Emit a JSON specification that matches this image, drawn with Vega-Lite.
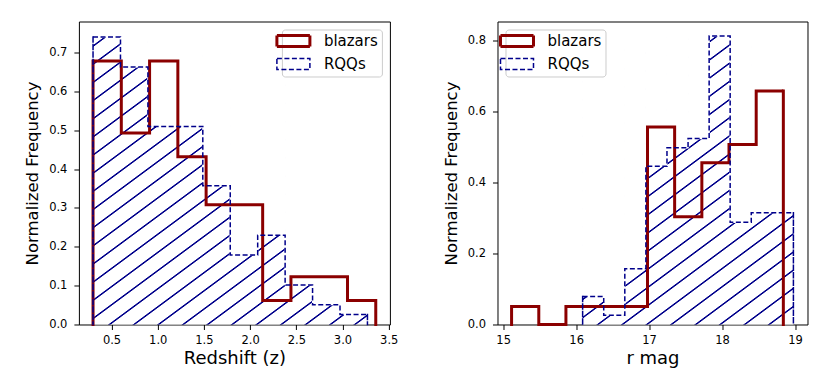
{
  "$schema": "https://vega.github.io/schema/vega-lite/v6.json",
  "background": "white",
  "padding": {"left": 23.9, "top": 20.5, "right": 5, "bottom": 5},
  "bounds": "flush",
  "spacing": 107.6,
  "config": {
    "font": "DejaVu Sans",
    "view": {"stroke": "black", "strokeWidth": 1},
    "axis": {"domain": false, "grid": false, "tickColor": "black", "tickSize": 5, "tickWidth": 1, "labelColor": "black", "labelFontSize": 11.5, "labelFont": "DejaVu Sans", "labelOverlap": false, "titleFont": "DejaVu Sans", "titleFontSize": 17, "titleFontWeight": "normal", "titleColor": "black"},
    "axisX": {"labelPadding": 5, "titlePadding": 3.5, "titleFontSize": 18},
    "axisY": {"labelPadding": 7, "titlePadding": 8, "titleFontSize": 16.5},
    "legend": {"offset": 8, "padding": 4, "strokeColor": "#cccccc", "fillColor": "rgba(255,255,255,0.8)", "cornerRadius": 3, "labelFontSize": 15, "labelFont": "DejaVu Sans", "labelColor": "black", "symbolType": "M-3,-1H3V1H-3Z", "symbolSize": 121, "labelOffset": 23, "rowPadding": 3}
  },
  "datasets": {
    "z": [
      {"series": "blazars", "bin": 0, "start": 0.300, "end": 0.606, "value": 0.678},
      {"series": "blazars", "bin": 1, "start": 0.606, "end": 0.912, "value": 0.493},
      {"series": "blazars", "bin": 2, "start": 0.912, "end": 1.218, "value": 0.678},
      {"series": "blazars", "bin": 3, "start": 1.218, "end": 1.524, "value": 0.432},
      {"series": "blazars", "bin": 4, "start": 1.524, "end": 1.830, "value": 0.308},
      {"series": "blazars", "bin": 5, "start": 1.830, "end": 2.136, "value": 0.308},
      {"series": "blazars", "bin": 6, "start": 2.136, "end": 2.442, "value": 0.062},
      {"series": "blazars", "bin": 7, "start": 2.442, "end": 2.748, "value": 0.123},
      {"series": "blazars", "bin": 8, "start": 2.748, "end": 3.054, "value": 0.123},
      {"series": "blazars", "bin": 9, "start": 3.054, "end": 3.360, "value": 0.062},
      {"series": "RQQs", "bin": 0, "start": 0.300, "end": 0.597, "value": 0.740},
      {"series": "RQQs", "bin": 1, "start": 0.597, "end": 0.894, "value": 0.663},
      {"series": "RQQs", "bin": 2, "start": 0.894, "end": 1.191, "value": 0.510},
      {"series": "RQQs", "bin": 3, "start": 1.191, "end": 1.488, "value": 0.510},
      {"series": "RQQs", "bin": 4, "start": 1.488, "end": 1.785, "value": 0.357},
      {"series": "RQQs", "bin": 5, "start": 1.785, "end": 2.082, "value": 0.179},
      {"series": "RQQs", "bin": 6, "start": 2.082, "end": 2.379, "value": 0.230},
      {"series": "RQQs", "bin": 7, "start": 2.379, "end": 2.676, "value": 0.102},
      {"series": "RQQs", "bin": 8, "start": 2.676, "end": 2.973, "value": 0.051},
      {"series": "RQQs", "bin": 9, "start": 2.973, "end": 3.270, "value": 0.026}
    ],
    "r": [
      {"series": "blazars", "bin": 0, "start": 15.115, "end": 15.488, "value": 0.051},
      {"series": "blazars", "bin": 1, "start": 15.488, "end": 15.860, "value": 0.0},
      {"series": "blazars", "bin": 2, "start": 15.860, "end": 16.233, "value": 0.051},
      {"series": "blazars", "bin": 3, "start": 16.233, "end": 16.605, "value": 0.051},
      {"series": "blazars", "bin": 4, "start": 16.605, "end": 16.978, "value": 0.051},
      {"series": "blazars", "bin": 5, "start": 16.978, "end": 17.350, "value": 0.557},
      {"series": "blazars", "bin": 6, "start": 17.350, "end": 17.723, "value": 0.304},
      {"series": "blazars", "bin": 7, "start": 17.723, "end": 18.095, "value": 0.456},
      {"series": "blazars", "bin": 8, "start": 18.095, "end": 18.468, "value": 0.507},
      {"series": "blazars", "bin": 9, "start": 18.468, "end": 18.840, "value": 0.658},
      {"series": "RQQs", "bin": 0, "start": 16.089, "end": 16.378, "value": 0.079},
      {"series": "RQQs", "bin": 1, "start": 16.378, "end": 16.667, "value": 0.026},
      {"series": "RQQs", "bin": 2, "start": 16.667, "end": 16.956, "value": 0.157},
      {"series": "RQQs", "bin": 3, "start": 16.956, "end": 17.245, "value": 0.446},
      {"series": "RQQs", "bin": 4, "start": 17.245, "end": 17.534, "value": 0.498},
      {"series": "RQQs", "bin": 5, "start": 17.534, "end": 17.823, "value": 0.524},
      {"series": "RQQs", "bin": 6, "start": 17.823, "end": 18.111, "value": 0.813},
      {"series": "RQQs", "bin": 7, "start": 18.111, "end": 18.400, "value": 0.288},
      {"series": "RQQs", "bin": 8, "start": 18.400, "end": 18.689, "value": 0.315},
      {"series": "RQQs", "bin": 9, "start": 18.689, "end": 18.978, "value": 0.315}
    ]
  },
  "resolve": {"scale": {"stroke": "independent", "strokeDash": "independent", "strokeWidth": "independent"}, "legend": {"stroke": "independent"}},
  "hconcat": [
    {
      "width": 311,
      "height": 303,
      "data": {"name": "z"},
      "layer": [
        {
          "transform": [
            {"filter": "datum.series === 'RQQs'"},
            {"aggregate": [{"op": "min", "field": "start", "as": "x0"}, {"op": "max", "field": "end", "as": "x1"}, {"op": "max", "field": "value", "as": "top"}]}
          ],
          "mark": {"type": "rect", "fill": {"gradient": "linear", "x1": 0, "y1": 0, "x2": 0.804, "y2": 1.138, "stops": [
            {"offset": 0.0157, "color": "white"}, {"offset": 0.0175, "color": "#00008B"}, {"offset": 0.0195, "color": "#00008B"}, {"offset": 0.0213, "color": "white"},
            {"offset": 0.0527, "color": "white"}, {"offset": 0.0545, "color": "#00008B"}, {"offset": 0.0565, "color": "#00008B"}, {"offset": 0.0583, "color": "white"},
            {"offset": 0.0898, "color": "white"}, {"offset": 0.0916, "color": "#00008B"}, {"offset": 0.0936, "color": "#00008B"}, {"offset": 0.0954, "color": "white"},
            {"offset": 0.1268, "color": "white"}, {"offset": 0.1286, "color": "#00008B"}, {"offset": 0.1306, "color": "#00008B"}, {"offset": 0.1324, "color": "white"},
            {"offset": 0.1638, "color": "white"}, {"offset": 0.1656, "color": "#00008B"}, {"offset": 0.1676, "color": "#00008B"}, {"offset": 0.1694, "color": "white"},
            {"offset": 0.2009, "color": "white"}, {"offset": 0.2027, "color": "#00008B"}, {"offset": 0.2047, "color": "#00008B"}, {"offset": 0.2065, "color": "white"},
            {"offset": 0.2379, "color": "white"}, {"offset": 0.2397, "color": "#00008B"}, {"offset": 0.2417, "color": "#00008B"}, {"offset": 0.2435, "color": "white"},
            {"offset": 0.2749, "color": "white"}, {"offset": 0.2767, "color": "#00008B"}, {"offset": 0.2787, "color": "#00008B"}, {"offset": 0.2805, "color": "white"},
            {"offset": 0.3119, "color": "white"}, {"offset": 0.3137, "color": "#00008B"}, {"offset": 0.3157, "color": "#00008B"}, {"offset": 0.3175, "color": "white"},
            {"offset": 0.3490, "color": "white"}, {"offset": 0.3508, "color": "#00008B"}, {"offset": 0.3528, "color": "#00008B"}, {"offset": 0.3546, "color": "white"},
            {"offset": 0.3860, "color": "white"}, {"offset": 0.3878, "color": "#00008B"}, {"offset": 0.3898, "color": "#00008B"}, {"offset": 0.3916, "color": "white"},
            {"offset": 0.4230, "color": "white"}, {"offset": 0.4248, "color": "#00008B"}, {"offset": 0.4268, "color": "#00008B"}, {"offset": 0.4286, "color": "white"},
            {"offset": 0.4601, "color": "white"}, {"offset": 0.4619, "color": "#00008B"}, {"offset": 0.4639, "color": "#00008B"}, {"offset": 0.4657, "color": "white"},
            {"offset": 0.4971, "color": "white"}, {"offset": 0.4989, "color": "#00008B"}, {"offset": 0.5009, "color": "#00008B"}, {"offset": 0.5027, "color": "white"},
            {"offset": 0.5341, "color": "white"}, {"offset": 0.5359, "color": "#00008B"}, {"offset": 0.5379, "color": "#00008B"}, {"offset": 0.5397, "color": "white"},
            {"offset": 0.5712, "color": "white"}, {"offset": 0.5730, "color": "#00008B"}, {"offset": 0.5750, "color": "#00008B"}, {"offset": 0.5768, "color": "white"},
            {"offset": 0.6082, "color": "white"}, {"offset": 0.6100, "color": "#00008B"}, {"offset": 0.6120, "color": "#00008B"}, {"offset": 0.6138, "color": "white"},
            {"offset": 0.6452, "color": "white"}, {"offset": 0.6470, "color": "#00008B"}, {"offset": 0.6490, "color": "#00008B"}, {"offset": 0.6508, "color": "white"},
            {"offset": 0.6822, "color": "white"}, {"offset": 0.6840, "color": "#00008B"}, {"offset": 0.6860, "color": "#00008B"}, {"offset": 0.6878, "color": "white"},
            {"offset": 0.7193, "color": "white"}, {"offset": 0.7211, "color": "#00008B"}, {"offset": 0.7231, "color": "#00008B"}, {"offset": 0.7249, "color": "white"},
            {"offset": 0.7563, "color": "white"}, {"offset": 0.7581, "color": "#00008B"}, {"offset": 0.7601, "color": "#00008B"}, {"offset": 0.7619, "color": "white"},
            {"offset": 0.7933, "color": "white"}, {"offset": 0.7951, "color": "#00008B"}, {"offset": 0.7971, "color": "#00008B"}, {"offset": 0.7989, "color": "white"},
            {"offset": 0.8304, "color": "white"}, {"offset": 0.8322, "color": "#00008B"}, {"offset": 0.8342, "color": "#00008B"}, {"offset": 0.8360, "color": "white"},
            {"offset": 0.8674, "color": "white"}, {"offset": 0.8692, "color": "#00008B"}, {"offset": 0.8712, "color": "#00008B"}, {"offset": 0.8730, "color": "white"},
            {"offset": 0.9044, "color": "white"}, {"offset": 0.9062, "color": "#00008B"}, {"offset": 0.9082, "color": "#00008B"}, {"offset": 0.9100, "color": "white"},
            {"offset": 0.9415, "color": "white"}, {"offset": 0.9433, "color": "#00008B"}, {"offset": 0.9453, "color": "#00008B"}, {"offset": 0.9471, "color": "white"},
            {"offset": 0.9785, "color": "white"}, {"offset": 0.9803, "color": "#00008B"}, {"offset": 0.9823, "color": "#00008B"}, {"offset": 0.9841, "color": "white"}
          ]}},
          "encoding": {
            "x": {"field": "x0", "type": "quantitative", "scale": {"domain": [0.147, 3.513], "nice": false, "zero": false}, "axis": {"values": [0.5, 1, 1.5, 2, 2.5, 3, 3.5], "format": ".1f", "title": "Redshift (z)"}},
            "x2": {"field": "x1"},
            "y": {"field": "top", "type": "quantitative", "scale": {"domain": [0, 0.78], "nice": false, "zero": false}, "axis": {"values": [0, 0.1, 0.2, 0.3, 0.4, 0.5, 0.6, 0.7], "format": ".1f", "title": "Normalized Frequency"}},
            "y2": {"datum": 0}
          }
        },
        {
          "transform": [
            {"filter": "datum.series === 'RQQs'"},
            {"joinaggregate": [{"op": "max", "field": "value", "as": "top"}]}
          ],
          "mark": {"type": "rect", "fill": "white", "stroke": "white", "strokeWidth": 1.2},
          "encoding": {
            "x": {"field": "start", "type": "quantitative", "title": "Redshift (z)"},
            "x2": {"field": "end"},
            "y": {"field": "value", "type": "quantitative", "title": "Normalized Frequency"},
            "y2": {"field": "top"}
          }
        },
        {
          "transform": [{"fold": ["start", "end"], "as": ["edge", "xe"]}],
          "mark": {"type": "line", "strokeJoin": "miter", "strokeCap": "butt"},
          "encoding": {
            "x": {"field": "xe", "type": "quantitative", "title": "Redshift (z)"},
            "y": {"field": "value", "type": "quantitative", "title": "Normalized Frequency"},
            "stroke": {"field": "series", "type": "nominal", "scale": {"domain": ["blazars", "RQQs"], "range": ["#8B0000", "#00008B"]},
              "legend": {"orient": "top-right", "title": null, "encode": {"symbols": {"update": {
                "strokeWidth": {"condition": {"test": "datum.value === 'RQQs'", "value": 1.5}, "value": 3},
                "strokeDash": {"condition": {"test": "datum.value === 'RQQs'", "value": [4, 2]}, "value": [1, 0]},
                "opacity": {"value": 1},
                "fill": {"condition": {"test": "datum.value === 'RQQs'", "value": {"gradient": "linear", "x1": 0, "y1": 0, "x2": 1.206, "y2": 0.543, "stops": [
                  {"offset": 0.154, "color": "white"}, {"offset": 0.179, "color": "#00008B"}, {"offset": 0.221, "color": "#00008B"}, {"offset": 0.246, "color": "white"},
                  {"offset": 0.454, "color": "white"}, {"offset": 0.479, "color": "#00008B"}, {"offset": 0.521, "color": "#00008B"}, {"offset": 0.546, "color": "white"},
                  {"offset": 0.754, "color": "white"}, {"offset": 0.779, "color": "#00008B"}, {"offset": 0.821, "color": "#00008B"}, {"offset": 0.846, "color": "white"}]}},
                  "value": "transparent"}
              }}}}},
            "strokeDash": {"field": "series", "type": "nominal", "scale": {"domain": ["blazars", "RQQs"], "range": [[1, 0], [5, 2.5]]}, "legend": null},
            "strokeWidth": {"field": "series", "type": "ordinal", "scale": {"domain": ["blazars", "RQQs"], "range": [3, 1.5]}, "legend": null},
            "order": [{"field": "xe", "type": "quantitative"}, {"field": "bin", "type": "quantitative"}]
          }
        },
        {
          "transform": [{"filter": "datum.bin === 0"}],
          "mark": {"type": "rule", "strokeCap": "square"},
          "encoding": {
            "x": {"field": "start", "type": "quantitative", "title": "Redshift (z)"},
            "y": {"field": "value", "type": "quantitative", "title": "Normalized Frequency"},
            "y2": {"datum": 0},
            "stroke": {"field": "series", "type": "nominal"},
            "strokeDash": {"field": "series", "type": "nominal", "legend": null},
            "strokeWidth": {"field": "series", "type": "ordinal", "legend": null}
          }
        },
        {
          "transform": [{"filter": "datum.bin === 9"}],
          "mark": {"type": "rule", "strokeCap": "square"},
          "encoding": {
            "x": {"field": "end", "type": "quantitative", "title": "Redshift (z)"},
            "y": {"field": "value", "type": "quantitative", "title": "Normalized Frequency"},
            "y2": {"datum": 0},
            "stroke": {"field": "series", "type": "nominal"},
            "strokeDash": {"field": "series", "type": "nominal", "legend": null},
            "strokeWidth": {"field": "series", "type": "ordinal", "legend": null}
          }
        }
      ]
    },
    {
      "width": 310,
      "height": 303,
      "data": {"name": "r"},
      "layer": [
        {
          "transform": [
            {"filter": "datum.series === 'RQQs'"},
            {"aggregate": [{"op": "min", "field": "start", "as": "x0"}, {"op": "max", "field": "end", "as": "x1"}, {"op": "max", "field": "value", "as": "top"}]}
          ],
          "mark": {"type": "rect", "fill": {"gradient": "linear", "x1": 0, "y1": 0, "x2": 0.647, "y2": 1.192, "stops": [
            {"offset": 0.0173, "color": "white"}, {"offset": 0.0193, "color": "#00008B"}, {"offset": 0.0215, "color": "#00008B"}, {"offset": 0.0235, "color": "white"},
            {"offset": 0.0581, "color": "white"}, {"offset": 0.0601, "color": "#00008B"}, {"offset": 0.0623, "color": "#00008B"}, {"offset": 0.0643, "color": "white"},
            {"offset": 0.0989, "color": "white"}, {"offset": 0.1009, "color": "#00008B"}, {"offset": 0.1031, "color": "#00008B"}, {"offset": 0.1051, "color": "white"},
            {"offset": 0.1398, "color": "white"}, {"offset": 0.1418, "color": "#00008B"}, {"offset": 0.1440, "color": "#00008B"}, {"offset": 0.1460, "color": "white"},
            {"offset": 0.1806, "color": "white"}, {"offset": 0.1826, "color": "#00008B"}, {"offset": 0.1848, "color": "#00008B"}, {"offset": 0.1868, "color": "white"},
            {"offset": 0.2214, "color": "white"}, {"offset": 0.2234, "color": "#00008B"}, {"offset": 0.2256, "color": "#00008B"}, {"offset": 0.2276, "color": "white"},
            {"offset": 0.2622, "color": "white"}, {"offset": 0.2642, "color": "#00008B"}, {"offset": 0.2664, "color": "#00008B"}, {"offset": 0.2684, "color": "white"},
            {"offset": 0.3030, "color": "white"}, {"offset": 0.3050, "color": "#00008B"}, {"offset": 0.3072, "color": "#00008B"}, {"offset": 0.3092, "color": "white"},
            {"offset": 0.3439, "color": "white"}, {"offset": 0.3459, "color": "#00008B"}, {"offset": 0.3481, "color": "#00008B"}, {"offset": 0.3501, "color": "white"},
            {"offset": 0.3847, "color": "white"}, {"offset": 0.3867, "color": "#00008B"}, {"offset": 0.3889, "color": "#00008B"}, {"offset": 0.3909, "color": "white"},
            {"offset": 0.4255, "color": "white"}, {"offset": 0.4275, "color": "#00008B"}, {"offset": 0.4297, "color": "#00008B"}, {"offset": 0.4317, "color": "white"},
            {"offset": 0.4663, "color": "white"}, {"offset": 0.4683, "color": "#00008B"}, {"offset": 0.4705, "color": "#00008B"}, {"offset": 0.4725, "color": "white"},
            {"offset": 0.5071, "color": "white"}, {"offset": 0.5091, "color": "#00008B"}, {"offset": 0.5113, "color": "#00008B"}, {"offset": 0.5133, "color": "white"},
            {"offset": 0.5480, "color": "white"}, {"offset": 0.5500, "color": "#00008B"}, {"offset": 0.5522, "color": "#00008B"}, {"offset": 0.5542, "color": "white"},
            {"offset": 0.5888, "color": "white"}, {"offset": 0.5908, "color": "#00008B"}, {"offset": 0.5930, "color": "#00008B"}, {"offset": 0.5950, "color": "white"},
            {"offset": 0.6296, "color": "white"}, {"offset": 0.6316, "color": "#00008B"}, {"offset": 0.6338, "color": "#00008B"}, {"offset": 0.6358, "color": "white"},
            {"offset": 0.6704, "color": "white"}, {"offset": 0.6724, "color": "#00008B"}, {"offset": 0.6746, "color": "#00008B"}, {"offset": 0.6766, "color": "white"},
            {"offset": 0.7112, "color": "white"}, {"offset": 0.7132, "color": "#00008B"}, {"offset": 0.7154, "color": "#00008B"}, {"offset": 0.7174, "color": "white"},
            {"offset": 0.7521, "color": "white"}, {"offset": 0.7541, "color": "#00008B"}, {"offset": 0.7563, "color": "#00008B"}, {"offset": 0.7583, "color": "white"},
            {"offset": 0.7929, "color": "white"}, {"offset": 0.7949, "color": "#00008B"}, {"offset": 0.7971, "color": "#00008B"}, {"offset": 0.7991, "color": "white"},
            {"offset": 0.8337, "color": "white"}, {"offset": 0.8357, "color": "#00008B"}, {"offset": 0.8379, "color": "#00008B"}, {"offset": 0.8399, "color": "white"},
            {"offset": 0.8745, "color": "white"}, {"offset": 0.8765, "color": "#00008B"}, {"offset": 0.8787, "color": "#00008B"}, {"offset": 0.8807, "color": "white"},
            {"offset": 0.9153, "color": "white"}, {"offset": 0.9173, "color": "#00008B"}, {"offset": 0.9195, "color": "#00008B"}, {"offset": 0.9215, "color": "white"},
            {"offset": 0.9562, "color": "white"}, {"offset": 0.9582, "color": "#00008B"}, {"offset": 0.9604, "color": "#00008B"}, {"offset": 0.9624, "color": "white"}
          ]}},
          "encoding": {
            "x": {"field": "x0", "type": "quantitative", "scale": {"domain": [14.922, 19.171], "nice": false, "zero": false}, "axis": {"values": [15, 16, 17, 18, 19], "format": "d", "title": "r mag"}},
            "x2": {"field": "x1"},
            "y": {"field": "top", "type": "quantitative", "scale": {"domain": [0, 0.854], "nice": false, "zero": false}, "axis": {"values": [0, 0.1, 0.2, 0.3, 0.4, 0.5, 0.6, 0.7, 0.8], "format": ".1f", "title": "Normalized Frequency"}},
            "y2": {"datum": 0}
          }
        },
        {
          "transform": [
            {"filter": "datum.series === 'RQQs'"},
            {"joinaggregate": [{"op": "max", "field": "value", "as": "top"}]}
          ],
          "mark": {"type": "rect", "fill": "white", "stroke": "white", "strokeWidth": 1.2},
          "encoding": {
            "x": {"field": "start", "type": "quantitative", "title": "r mag"},
            "x2": {"field": "end"},
            "y": {"field": "value", "type": "quantitative", "title": "Normalized Frequency"},
            "y2": {"field": "top"}
          }
        },
        {
          "transform": [{"fold": ["start", "end"], "as": ["edge", "xe"]}],
          "mark": {"type": "line", "strokeJoin": "miter", "strokeCap": "butt"},
          "encoding": {
            "x": {"field": "xe", "type": "quantitative", "title": "r mag"},
            "y": {"field": "value", "type": "quantitative", "title": "Normalized Frequency"},
            "stroke": {"field": "series", "type": "nominal", "scale": {"domain": ["blazars", "RQQs"], "range": ["#8B0000", "#00008B"]},
              "legend": {"orient": "top-left", "title": null, "encode": {"symbols": {"update": {
                "strokeWidth": {"condition": {"test": "datum.value === 'RQQs'", "value": 1.5}, "value": 3},
                "strokeDash": {"condition": {"test": "datum.value === 'RQQs'", "value": [4, 2]}, "value": [1, 0]},
                "opacity": {"value": 1},
                "fill": {"condition": {"test": "datum.value === 'RQQs'", "value": {"gradient": "linear", "x1": 0, "y1": 0, "x2": 1.206, "y2": 0.543, "stops": [
                  {"offset": 0.154, "color": "white"}, {"offset": 0.179, "color": "#00008B"}, {"offset": 0.221, "color": "#00008B"}, {"offset": 0.246, "color": "white"},
                  {"offset": 0.454, "color": "white"}, {"offset": 0.479, "color": "#00008B"}, {"offset": 0.521, "color": "#00008B"}, {"offset": 0.546, "color": "white"},
                  {"offset": 0.754, "color": "white"}, {"offset": 0.779, "color": "#00008B"}, {"offset": 0.821, "color": "#00008B"}, {"offset": 0.846, "color": "white"}]}},
                  "value": "transparent"}
              }}}}},
            "strokeDash": {"field": "series", "type": "nominal", "scale": {"domain": ["blazars", "RQQs"], "range": [[1, 0], [5, 2.5]]}, "legend": null},
            "strokeWidth": {"field": "series", "type": "ordinal", "scale": {"domain": ["blazars", "RQQs"], "range": [3, 1.5]}, "legend": null},
            "order": [{"field": "xe", "type": "quantitative"}, {"field": "bin", "type": "quantitative"}]
          }
        },
        {
          "transform": [{"filter": "datum.bin === 0"}],
          "mark": {"type": "rule", "strokeCap": "square"},
          "encoding": {
            "x": {"field": "start", "type": "quantitative", "title": "r mag"},
            "y": {"field": "value", "type": "quantitative", "title": "Normalized Frequency"},
            "y2": {"datum": 0},
            "stroke": {"field": "series", "type": "nominal"},
            "strokeDash": {"field": "series", "type": "nominal", "legend": null},
            "strokeWidth": {"field": "series", "type": "ordinal", "legend": null}
          }
        },
        {
          "transform": [{"filter": "datum.bin === 9"}],
          "mark": {"type": "rule", "strokeCap": "square"},
          "encoding": {
            "x": {"field": "end", "type": "quantitative", "title": "r mag"},
            "y": {"field": "value", "type": "quantitative", "title": "Normalized Frequency"},
            "y2": {"datum": 0},
            "stroke": {"field": "series", "type": "nominal"},
            "strokeDash": {"field": "series", "type": "nominal", "legend": null},
            "strokeWidth": {"field": "series", "type": "ordinal", "legend": null}
          }
        }
      ]
    }
  ]
}
